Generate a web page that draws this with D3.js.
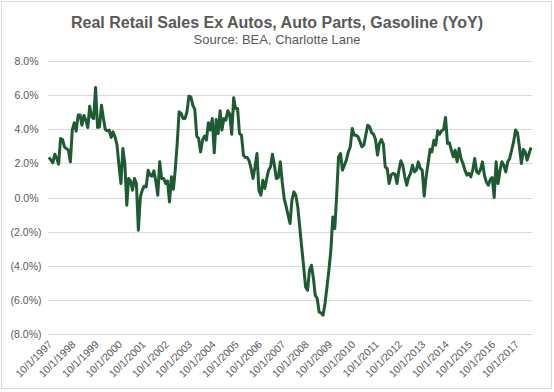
<!DOCTYPE html>
<html>
<head>
<meta charset="utf-8">
<script src="https://cdn.jsdelivr.net/npm/d3@7"></script>
<style>
  body { margin: 0; background: #fff; }
  text { font-family: "Liberation Sans", Arial, sans-serif; }
</style>
</head>
<body>
<script>
// monthly YoY %, starting 10/1997
var startDate = new Date(1997, 9, 1);
var yoy = [
  2.35, 2.19, 2.03, 2.54, 2.29, 1.95, 3.46, 3.40, 2.97, 2.87, 2.77, 2.09,
  3.95, 4.38, 3.89, 4.83, 4.83, 4.24, 4.81, 4.53, 4.10, 5.35, 4.73, 4.63,
  6.45, 4.10, 4.14, 5.41, 4.63, 3.99, 3.91, 3.95, 3.52, 3.85, 3.55, 3.07,
  1.89, 0.82, 2.87, 1.99, -0.45, 1.11, 0.97, 0.43, 1.11, 0.82, -1.92, 0.04,
  0.43, 0.66, 0.62, 1.60, 1.31, 1.25, 1.56, 0.97, 0.13, 2.09, 1.11, 1.11,
  0.82, 0.97, -0.26, 1.21, 0.49, 1.60, 3.17, 5.02, 4.93, 4.63, 4.63, 5.02,
  5.94, 5.90, 5.41, 5.16, 3.60, 3.46, 2.67, 3.36, 3.60, 3.36, 4.38, 3.95,
  4.63, 2.62, 4.57, 3.75, 5.08, 3.95, 4.63, 4.53, 5.08, 4.89, 3.71, 5.84,
  5.22, 5.22, 3.75, 3.65, 2.48, 2.35, 2.35, 2.15, 1.70, 1.11, 1.79, 2.58,
  0.43, 0.13, 1.01, 0.53, 1.11, 1.60, 1.79, 2.54, 1.89, 1.11, 1.17, 2.09,
  0.91, -0.06, -0.51, -1.04, -1.52, -0.16, 0.33, 0.13, -0.55, -1.72, -2.90, -4.07,
  -5.24, -5.44, -4.26, -3.97, -4.75, -5.73, -5.92, -6.71, -6.77, -6.90, -6.22, -5.24,
  -4.26, -3.09, -1.14, -1.82, 0.23, 2.38, 2.58, 1.60, 1.89, 2.19, 2.67, 2.97,
  4.05, 3.65, 3.65, 3.55, 3.26, 2.97, 3.07, 3.65, 4.24, 4.14, 3.79, 3.71,
  3.40, 2.48, 3.17, 3.40, 3.13, 1.79, 1.70, 0.82, 1.31, 1.41, 1.37, 0.82,
  1.60, 2.15, 1.89, 1.21, 0.72, 1.17, 1.41, 1.89, 1.50, 1.60, 2.09, 1.70,
  1.60, 0.08, 1.21, 1.99, 2.82, 2.67, 3.36, 3.07, 3.91, 3.71, 3.91, 3.99,
  4.69, 3.17, 3.20, 2.77, 2.38, 2.77, 2.09, 2.87, 2.29, 1.99, 1.60, 1.31,
  1.41, 1.21, 1.60, 2.29, 1.50, 1.41, 1.64, 2.09, 1.31, 0.91, 0.72, 1.06,
  1.17, 0.00, 2.09, 0.82, 1.60, 2.09, 1.89, 1.50, 2.09, 2.29, 2.77, 3.26,
  3.95, 3.79, 2.97, 1.99, 2.82, 2.67, 2.19, 2.58, 2.93
];
var yTicks = [8, 6, 4, 2, 0, -2, -4, -6, -8];
var xTickLabels = ['10/1/1997', '10/1/1998', '10/1/1999', '10/1/2000', '10/1/2001',
  '10/1/2002', '10/1/2003', '10/1/2004', '10/1/2005', '10/1/2006', '10/1/2007',
  '10/1/2008', '10/1/2009', '10/1/2010', '10/1/2011', '10/1/2012', '10/1/2013',
  '10/1/2014', '10/1/2015', '10/1/2016', '10/1/2017'];

var svg = d3.select('body').append('svg')
    .attr('width', 554)
    .attr('height', 392);

// chart frame
svg.append('rect')
    .attr('x', 1.5).attr('y', 1.5)
    .attr('width', 550).attr('height', 387)
    .attr('fill', '#fff')
    .attr('stroke', '#d9d9d9');

var data = yoy.map(function(v, i) {
  return { date: d3.timeMonth.offset(startDate, i), v: v };
});

var x = d3.scaleTime()
    .domain([d3.timeDay.offset(startDate, -15), d3.timeDay.offset(d3.timeMonth.offset(startDate, 249), -15)])
    .range([48, 532]);
var y = d3.scaleLinear().domain([-8, 8]).range([334, 61]);

svg.append('text')
    .attr('x', 277).attr('y', 28)
    .attr('text-anchor', 'middle')
    .attr('font-size', 16).attr('font-weight', 'bold')
    .attr('fill', '#595959')
    .text('Real Retail Sales Ex Autos, Auto Parts, Gasoline (YoY)');

svg.append('text')
    .attr('x', 277).attr('y', 44)
    .attr('text-anchor', 'middle')
    .attr('font-size', 13)
    .attr('fill', '#595959')
    .text('Source: BEA, Charlotte Lane');

// gridlines + y labels
var yAxis = svg.append('g');
yAxis.selectAll('line').data(yTicks).enter().append('line')
    .attr('x1', 48).attr('x2', 532)
    .attr('y1', function(d) { return Math.round(y(d)) + 0.5; })
    .attr('y2', function(d) { return Math.round(y(d)) + 0.5; })
    .attr('stroke', '#d9d9d9');

yAxis.selectAll('text').data(yTicks).enter().append('text')
    .attr('x', function(d) { return d < 0 ? 41.5 : 38.5; })
    .attr('y', function(d) { return y(d) + 4; })
    .attr('text-anchor', 'end')
    .attr('font-size', 10.5)
    .attr('fill', '#595959')
    .text(function(d) {
      var s = Math.abs(d).toFixed(1) + '%';
      return d < 0 ? '(' + s + ')' : s;
    });

// x labels, one per year
var xTicks = xTickLabels.map(function(t, i) { return d3.timeMonth.offset(startDate, i * 12); });
svg.append('g').selectAll('text').data(xTicks).enter().append('text')
    .attr('text-anchor', 'end')
    .attr('font-size', 10.5)
    .attr('fill', '#595959')
    .attr('transform', function(d) {
      return 'translate(' + (x(d) + 4) + ',' + 345 + ') rotate(-45)';
    })
    .text(function(d, i) { return xTickLabels[i]; });

var line = d3.line()
    .x(function(d) { return x(d.date); })
    .y(function(d) { return y(d.v); });

svg.append('path')
    .datum(data)
    .attr('fill', 'none')
    .attr('stroke', '#1e5b32')
    .attr('stroke-width', 3)
    .attr('stroke-linejoin', 'round')
    .attr('d', line);
</script>
</body>
</html>
